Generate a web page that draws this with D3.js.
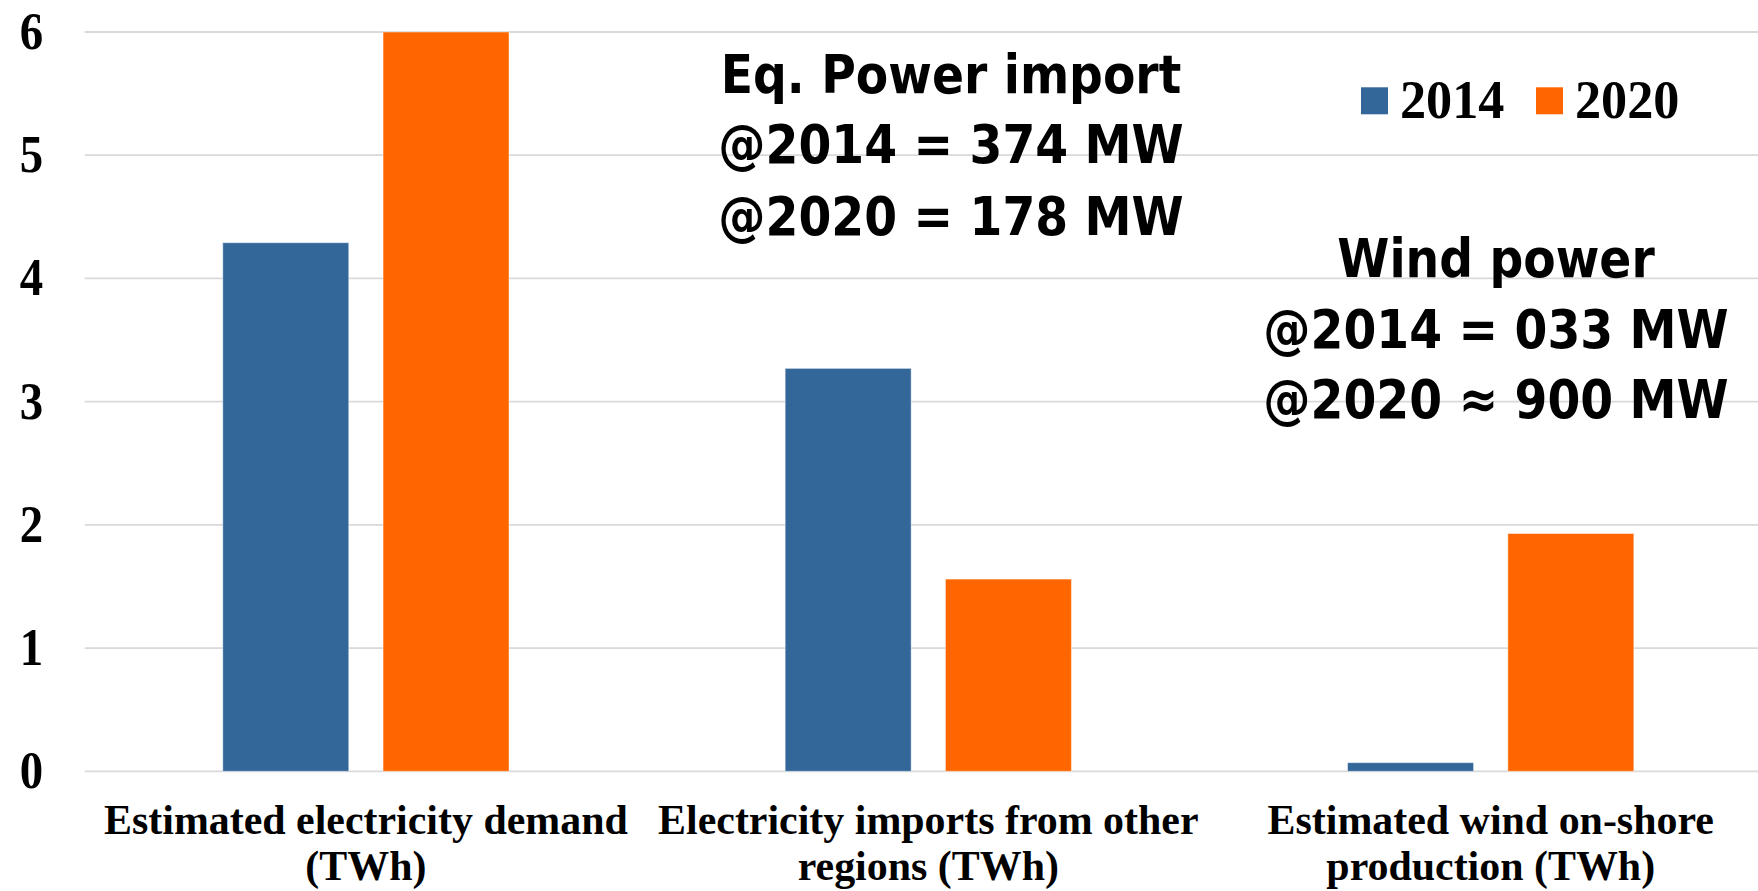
<!DOCTYPE html>
<html>
<head>
<meta charset="utf-8">
<script src="https://cdn.jsdelivr.net/npm/d3@7"></script>
<style>
  html, body { margin: 0; padding: 0; background: #fff; }
  svg { display: block; }
</style>
</head>
<body>
<svg id="chart" width="1758" height="891"></svg>
<script>
const categories = [
  ["Estimated electricity demand", "(TWh)"],
  ["Electricity imports from other", "regions (TWh)"],
  ["Estimated wind on-shore", "production (TWh)"]
];
const seriesNames = ["2014", "2020"];
const values2014 = [4.29, 3.27, 0.07];
const values2020 = [6.0, 1.56, 1.93];
const yTicks = [0, 1, 2, 3, 4, 5, 6];
const annotationImport = ["Eq. Power import", "@2014 = 374 MW", "@2020 = 178 MW"];
const annotationWind = ["Wind power", "@2014 = 033 MW", "@2020 \u2248 900 MW"];
const colors = ["#336699", "#FF6600"];

const svg = d3.select("#chart");
const W = 1758, H = 891;
const serif = "'Liberation Serif', 'Times New Roman', serif";

const y = d3.scaleLinear().domain([0, 6]).range([771.3, 32]);
const x0 = d3.scaleBand().domain(d3.range(categories.length))
  .range([84.7, 1771.9]).paddingInner(0.491).paddingOuter(0.2455);
const x1 = d3.scaleBand().domain(d3.range(seriesNames.length))
  .range([0, x0.bandwidth()]).paddingInner(0.214).paddingOuter(0);

// gridlines
svg.append("g").selectAll("line").data(yTicks).join("line")
  .attr("x1", 84.7).attr("x2", W)
  .attr("y1", d => y(d)).attr("y2", d => y(d))
  .attr("stroke", "#d9d9d9").attr("stroke-width", 1.8);

// y tick labels
svg.append("g").selectAll("g").data(yTicks).join("g")
  .attr("transform", d => `translate(31.5,${y(d) + 17}) scale(0.9,1)`)
  .append("text")
  .attr("text-anchor", "middle")
  .attr("font-family", serif)
  .attr("font-weight", "bold").attr("font-size", 52)
  .text(d => d);

// bars
const data = categories.map((c, i) => [values2014[i], values2020[i]]);
const groups = svg.append("g").selectAll("g").data(data).join("g")
  .attr("transform", (d, i) => `translate(${x0(i)},0)`);
groups.selectAll("rect").data(d => d.map((v, k) => ({v, k}))).join("rect")
  .attr("x", d => x1(d.k))
  .attr("width", x1.bandwidth())
  .attr("y", d => y(d.v))
  .attr("height", d => y(0) - y(d.v))
  .attr("fill", d => colors[d.k])
  .attr("stroke", "rgba(255,255,255,0.45)").attr("stroke-width", 1);

// category labels
categories.forEach((d, i) => {
  const cx = x0(i) + x0.bandwidth() / 2;
  d.forEach((line, j) => {
    svg.append("g").attr("transform", `translate(${cx},${834 + j * 45.5}) scale(0.975,1)`)
      .append("text").attr("text-anchor", "middle")
      .attr("font-family", serif)
      .attr("font-weight", "bold").attr("font-size", 43)
      .text(line);
  });
});

// legend
const legendX = [1361, 1536];
seriesNames.forEach((s, k) => {
  svg.append("rect").attr("x", legendX[k]).attr("y", 87.3)
    .attr("width", 27).attr("height", 27).attr("fill", colors[k]);
  svg.append("g").attr("transform", `translate(${legendX[k] + 39},118) scale(0.95,1)`)
    .append("text")
    .attr("font-family", serif)
    .attr("font-weight", "bold").attr("font-size", 55)
    .text(s);
});

// annotations
function annotate(lines, cx, baselines) {
  lines.forEach((line, j) => {
    svg.append("g").attr("transform", `translate(${cx},${baselines[j]}) scale(0.875,1)`)
      .append("text").attr("text-anchor", "middle")
      .attr("font-family", "'DejaVu Sans', Verdana, sans-serif")
      .attr("font-weight", "bold").attr("font-size", 54)
      .text(line);
  });
}
annotate(annotationImport, 951, [92.5, 163, 234.5]);
annotate(annotationWind, 1496, [276.7, 347.7, 417.7]);
</script>
</body>
</html>
